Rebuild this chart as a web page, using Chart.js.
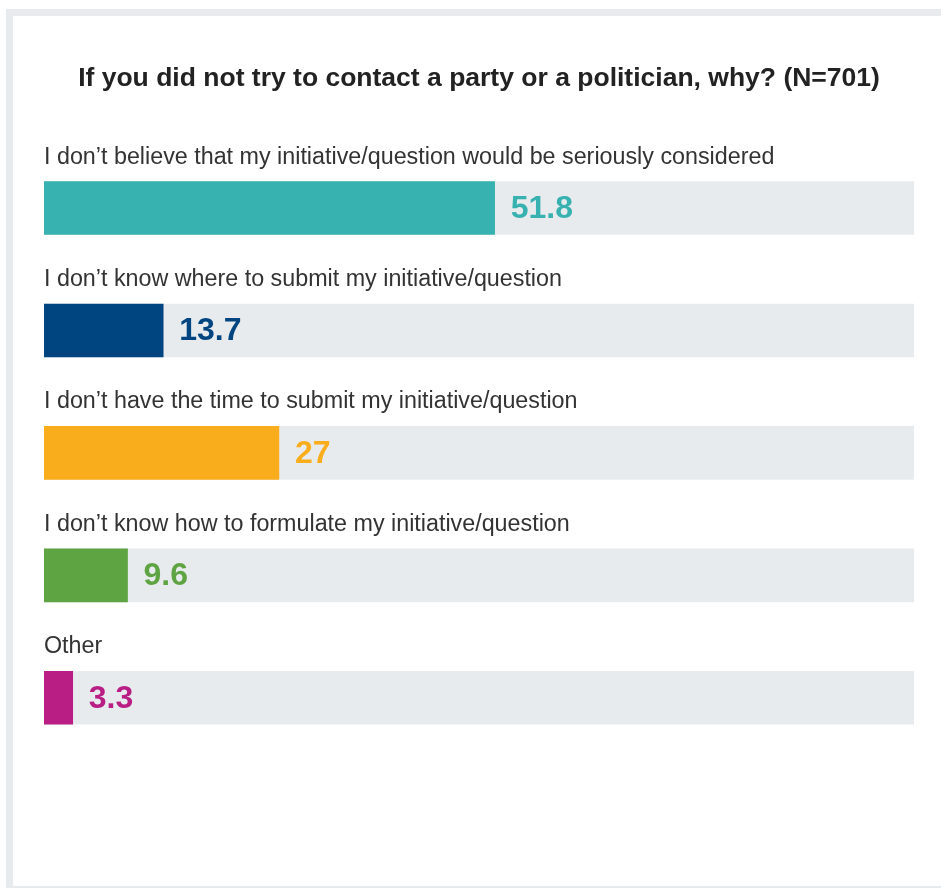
<!DOCTYPE html>
<html>
<head>
<meta charset="utf-8">
<script src="https://cdn.jsdelivr.net/npm/chart.js@4.4.1/dist/chart.umd.min.js"></script>
<style>
  html, body { margin: 0; padding: 0; background: #fff; }
  #frame {
    position: absolute; left: 6px; top: 9px; width: 935px; height: 870px;
    border-left: 7px solid #e8ebee; border-top: 7px solid #e8ebee; border-bottom: 2px solid #e8ebee;
    box-sizing: content-box;
  }
  #wrap { position: absolute; left: 0; top: 0; width: 941px; height: 888px; }
</style>
</head>
<body>
<div id="frame"></div>
<div id="wrap"><canvas id="reasons-chart"></canvas></div>
<script>
const reasons = [
  'I don\u2019t believe that my initiative/question would be seriously considered',
  'I don\u2019t know where to submit my initiative/question',
  'I don\u2019t have the time to submit my initiative/question',
  'I don\u2019t know how to formulate my initiative/question',
  'Other'
];
const shares = [51.8, 13.7, 27, 9.6, 3.3];
const barColours = ['#38b2b0', '#004480', '#f9ad1c', '#5fa443', '#b81e83'];
const trackMax = 100;
const track = reasons.map(() => trackMax);

const FONT = '"Liberation Sans", Arial, Helvetica, sans-serif';

// category text above each bar and the value just past the bar end
const barLabels = {
  id: 'barLabels',
  afterDatasetsDraw(chart) {
    const ctx = chart.ctx;
    const meta = chart.getDatasetMeta(0);
    ctx.save();
    meta.data.forEach((bar, i) => {
      const top = bar.y - bar.height / 2;
      ctx.font = '23.3px ' + FONT;
      ctx.fillStyle = '#333333';
      ctx.textAlign = 'left';
      ctx.textBaseline = 'alphabetic';
      ctx.fillText(reasons[i], chart.chartArea.left, top - 18);

      ctx.font = 'bold 32px ' + FONT;
      ctx.fillStyle = barColours[i];
      ctx.textBaseline = 'middle';
      ctx.fillText(String(shares[i]), bar.x + 16, bar.y + 1);
    });
    ctx.restore();
  }
};

const ctx = document.getElementById('reasons-chart').getContext('2d');
new Chart(ctx, {
  type: 'bar',
  data: {
    labels: reasons,
    datasets: [
      { data: shares, backgroundColor: barColours, order: 0, grouped: false, barThickness: 53 },
      { data: track, backgroundColor: '#e8ebee', order: 1, grouped: false, barThickness: 53 }
    ]
  },
  options: {
    indexAxis: 'y',
    responsive: true,
    maintainAspectRatio: false,
    animation: false,
    layout: { padding: { left: 44, right: 27, top: 0, bottom: 129 } },
    scales: {
      x: { display: false, min: 0, max: trackMax },
      y: { display: false }
    },
    plugins: {
      legend: { display: false },
      tooltip: { enabled: false },
      title: {
        display: true,
        text: 'If you did not try to contact a party or a politician, why? (N=701)',
        color: '#222222',
        font: { family: FONT, size: 26.5, weight: 'bold' },
        padding: { top: 63, bottom: 52 }
      }
    }
  },
  plugins: [barLabels]
});
</script>
</body>
</html>
